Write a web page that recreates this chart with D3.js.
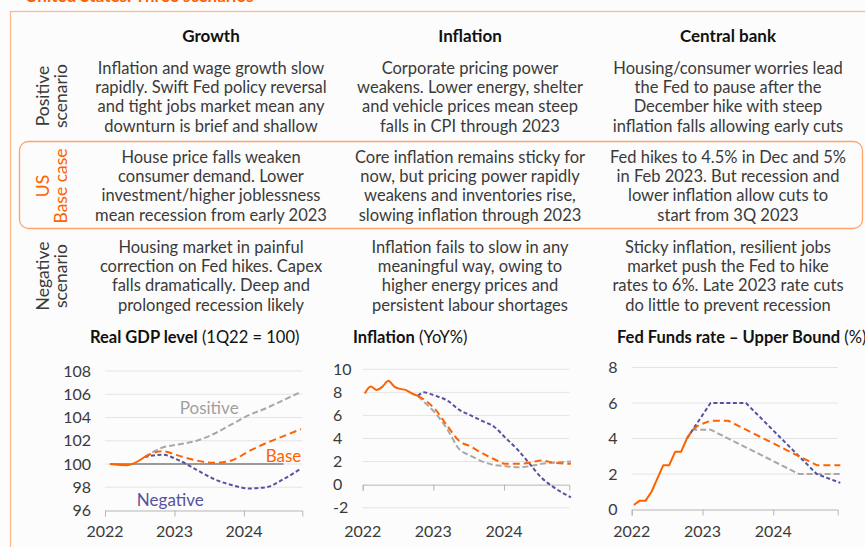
<!DOCTYPE html>
<html>
<head>
<meta charset="utf-8">
<script src="https://cdn.jsdelivr.net/npm/d3@7"></script>
<style>
  body { margin: 0; background: #fcfcfc; }
  svg { display: block; font-family: Lato, "Noto Sans", sans-serif; }
</style>
</head>
<body>
<svg id="chart" width="865" height="547"></svg>
<script>
// --- table text ---
const columns = ['Growth', 'Inflation', 'Central bank'];
const rowLabels = [
  ['Positive', 'scenario'],
  ['US', 'Base case'],
  ['Negative', 'scenario']
];
const positiveText = [
  ['Inflation and wage growth slow', 'rapidly. Swift Fed policy reversal', 'and tight jobs market mean any', 'downturn is brief and shallow'],
  ['Corporate pricing power', 'weakens. Lower energy, shelter', 'and vehicle prices mean steep', 'falls in CPI through 2023'],
  ['Housing/consumer worries lead', 'the Fed to pause after the', 'December hike with steep', 'inflation falls allowing early cuts']
];
const baseText = [
  ['House price falls weaken', 'consumer demand. Lower', 'investment/higher joblessness', 'mean recession from early 2023'],
  ['Core inflation remains sticky for', 'now, but pricing power rapidly', 'weakens and inventories rise,', 'slowing inflation through 2023'],
  ['Fed hikes to 4.5% in Dec and 5%', 'in Feb 2023. But recession and', 'lower inflation allow cuts to', 'start from 3Q 2023']
];
const negativeText = [
  ['Housing market in painful', 'correction on Fed hikes. Capex', 'falls dramatically. Deep and', 'prolonged recession likely'],
  ['Inflation fails to slow in any', 'meaningful way, owing to', 'higher energy prices and', 'persistent labour shortages'],
  ['Sticky inflation, resilient jobs', 'market push the Fed to hike', 'rates to 6%. Late 2023 rate cuts', 'do little to prevent recession']
];

// --- GDP (1Q22 = 100) ---
const gdpQuarters = ['1Q22','2Q22','3Q22','4Q22','1Q23','2Q23','3Q23','4Q23','1Q24','2Q24','3Q24','4Q24'];
const gdpActual   = [100.0, 99.9, 100.6, null, null, null, null, null, null, null, null, null];
const gdpBase     = [null, null, 100.6, 101.1, 100.7, 100.3, 100.1, 100.3, 101.1, 101.8, 102.4, 103.0];
const gdpPositive = [null, null, 100.6, 101.4, 101.7, 102.0, 102.6, 103.4, 104.2, 104.8, 105.5, 106.2];
const gdpNegative = [null, null, 100.6, 100.8, 100.3, 99.5, 98.7, 98.2, 97.9, 98.0, 98.7, 99.6];
const gdpRefQuarters = ['1Q22', '3Q24'];
const gdpRefValues = [100, 100];
const gdpTicks = [96, 98, 100, 102, 104, 106, 108];

// --- CPI inflation (YoY%) ---
const infActualMonths = ['2022-01','2022-02','2022-03','2022-04','2022-05','2022-06','2022-07','2022-08','2022-09','2022-10'];
const infActual = [7.9, 8.5, 8.2, 8.5, 9.0, 8.5, 8.3, 8.2, 7.9, 7.7];
const infFcMonths = ['2022-10','2022-11','2023-01','2023-03','2023-05','2023-07','2023-09','2023-11','2024-01','2024-03','2024-05','2024-07','2024-09','2024-12'];
const infBase     = [7.7, 7.4, 6.5, 5.1, 3.8, 3.3, 2.7, 2.2, 1.8, 1.8, 1.9, 2.1, 1.9, 1.8];
const infPositive = [7.7, 7.2, 6.2, 4.8, 3.1, 2.5, 2.0, 1.7, 1.6, 1.5, 1.6, 1.8, 1.9, 2.0];
const infNegative = [7.7, 8.0, 7.7, 7.3, 6.5, 6.0, 5.5, 5.0, 4.0, 3.0, 1.8, 0.6, -0.2, -1.1];
const infTicks = [-2, 0, 2, 4, 6, 8, 10];

// --- Fed funds upper bound (%) ---
const fedActualMonths = ['2022-01','2022-02','2022-03','2022-04','2022-05','2022-06','2022-07','2022-08','2022-09','2022-10'];
const fedActual = [0.25, 0.5, 0.5, 1.0, 1.75, 2.5, 2.5, 3.25, 3.25, 4.0];
const fedBaseMonths = ['2022-10','2022-11','2022-12','2023-02','2023-05','2023-08','2023-11','2024-02','2024-05','2024-08','2024-12'];
const fedBase = [4.0, 4.5, 4.75, 5.0, 5.0, 4.5, 4.0, 3.5, 3.0, 2.5, 2.5];
const fedPositiveMonths = ['2022-10','2022-11','2023-02','2024-05','2024-12'];
const fedPositive = [4.0, 4.5, 4.5, 2.0, 2.0];
const fedNegativeMonths = ['2022-10','2022-11','2023-02','2023-08','2024-08','2024-12'];
const fedNegative = [4.0, 4.5, 6.0, 6.0, 2.0, 1.5];
const fedTicks = [0, 2, 4, 6, 8];

const yearTicks = [2022, 2023, 2024];

const ORANGE = '#ff6200';
const GREY = '#a8a8a8';
const PURPLE = '#5553a0';
const TEXT = '#3a3a3a';

const svg = d3.select('#chart');

// title (cut off at top of picture, as in the source)
svg.append('text')
  .attr('x', 25).attr('y', 2)
  .attr('font-size', 17).attr('font-weight', 700)
  .attr('fill', ORANGE)
  .text('United States: Three scenarios');

// outer frame
svg.append('rect')
  .attr('x', 10.5).attr('y', 11.5)
  .attr('width', 900).attr('height', 600)
  .attr('fill', 'none')
  .attr('stroke', '#fdb98c').attr('stroke-width', 1.3);

// base case box
svg.append('rect')
  .attr('x', 19.5).attr('y', 141.5)
  .attr('width', 843).attr('height', 87)
  .attr('rx', 9)
  .attr('fill', 'none')
  .attr('stroke', '#ffa468').attr('stroke-width', 1.3);

const colX = [211, 470, 728];

svg.append('g').selectAll('text')
  .data(columns)
  .enter()
  .append('text')
  .attr('x', (d, i) => colX[i])
  .attr('y', 42)
  .attr('text-anchor', 'middle')
  .attr('font-size', 17)
  .attr('font-weight', 700)
  .attr('fill', '#111')
  .text(d => d);

const rows = [positiveText, baseText, negativeText];
const rowTop = [73.5, 162.5, 252.5];
const rowMid = [96, 186, 276];
const lineH = 19.4;

rows.forEach((row, r) => {
  const g = svg.append('g');
  row.forEach((lines, c) => {
    g.append('g').selectAll('text')
      .data(lines)
      .enter()
      .append('text')
      .attr('x', colX[c])
      .attr('y', (d, i) => rowTop[r] + i * lineH)
      .attr('text-anchor', 'middle')
      .attr('font-size', 16.5)
      .attr('fill', TEXT)
      .text(d => d);
  });

  // rotated row label
  g.append('g').selectAll('text')
    .data(rowLabels[r])
    .enter()
    .append('text')
    .attr('transform', (d, i) => `translate(${[48.5, 67][i]},${rowMid[r]}) rotate(-90)`)
    .attr('text-anchor', 'middle')
    .attr('font-size', 17.5)
    .attr('fill', r === 1 ? ORANGE : TEXT)
    .text(d => d);
});

// --- helpers ---
function monthPos(s) {
  const [y, m] = s.split('-').map(Number);
  return y + (m - 1) / 12 + 0.03;
}
function quarterPos(s) {
  const q = +s[0];
  const y = 2000 + +s.slice(2);
  return y + (q - 1) / 4 + 0.07;
}

function drawPanel(opts) {
  const { x, y, ticks, baseline, labelX, labelAnchor } = opts;
  const g = svg.append('g');

  // title
  const t = g.append('text')
    .attr('x', opts.titleX).attr('y', 342.5)
    .attr('font-size', 16.5)
    .attr('fill', '#111');
  t.append('tspan').attr('font-weight', 700).text(opts.titleBold);
  t.append('tspan').text(' ' + opts.titleRest);

  // grid
  g.append('g').selectAll('line')
    .data(ticks.filter(v => v !== baseline))
    .enter()
    .append('line')
    .attr('x1', x.range()[0]).attr('x2', x.range()[1])
    .attr('y1', d => y(d)).attr('y2', d => y(d))
    .attr('stroke', '#e4e4e4').attr('stroke-width', 1);

  // y labels
  g.append('g').selectAll('text')
    .data(ticks)
    .enter()
    .append('text')
    .attr('x', labelX)
    .attr('y', d => y(d) + 5.5)
    .attr('text-anchor', labelAnchor)
    .attr('font-size', 16)
    .attr('fill', TEXT)
    .text(d => d);

  // x axis at baseline
  const axis = g.append('g')
    .attr('transform', `translate(0,${y(baseline)})`)
    .call(d3.axisBottom(x).tickValues(yearTicks).tickSize(6).tickFormat(''));
  axis.select('.domain').attr('stroke', '#b5b5b5');
  axis.selectAll('.tick line').attr('stroke', '#b5b5b5');

  g.append('g').selectAll('text')
    .data(yearTicks)
    .enter()
    .append('text')
    .attr('x', d => x(d))
    .attr('y', 536.5)
    .attr('text-anchor', 'middle')
    .attr('font-size', 16)
    .attr('fill', TEXT)
    .text(d => d);

  const line = d3.line()
    .defined(d => d[1] != null)
    .x(d => x(d[0]))
    .y(d => y(d[1]))
    .curve(opts.curve);

  opts.series.forEach(s => {
    g.append('path')
      .datum(s.pos.map((p, i) => [p, s.values[i]]))
      .attr('d', line)
      .attr('fill', 'none')
      .attr('stroke', s.color)
      .attr('stroke-width', s.width || 2)
      .attr('stroke-dasharray', s.dash || null)
      .attr('stroke-linejoin', 'round');
  });
  return g;
}

// GDP panel
const gdpX = d3.scaleLinear().domain([2022, 2024.84]).range([105, 302.3]);
const gdpY = d3.scaleLinear().domain([96, 108]).range([510.5, 371]);
const gdpPos = gdpQuarters.map(quarterPos);
const gdpPanel = drawPanel({
  x: gdpX, y: gdpY, ticks: gdpTicks, baseline: 96,
  labelX: 91, labelAnchor: 'end',
  titleX: 90, titleBold: 'Real GDP level', titleRest: '(1Q22 = 100)',
  curve: d3.curveMonotoneX,
  series: [
    { pos: gdpRefQuarters.map(quarterPos), values: gdpRefValues, color: '#444', width: 1.2 },
    { pos: gdpPos, values: gdpPositive, color: GREY, dash: '6,3' },
    { pos: gdpPos, values: gdpNegative, color: PURPLE, dash: '4,2.5' },
    { pos: gdpPos, values: gdpBase, color: ORANGE, dash: '7,4' },
    { pos: gdpPos, values: gdpActual, color: ORANGE }
  ]
});

const gdpLabels = [
  { text: 'Positive', x: 2023.5, v: 104.3, color: '#a0a0a0' },
  { text: 'Base', x: 2024.57, v: 100.2, color: ORANGE },
  { text: 'Negative', x: 2022.94, v: 96.4, color: PURPLE }
];
gdpPanel.append('g').selectAll('text')
  .data(gdpLabels)
  .enter()
  .append('text')
  .attr('x', d => gdpX(d.x))
  .attr('y', d => gdpY(d.v))
  .attr('text-anchor', 'middle')
  .attr('font-size', 17)
  .attr('fill', d => d.color)
  .text(d => d.text);

// Inflation panel
const infX = d3.scaleLinear().domain([2022, 2024.924]).range([362.7, 569.3]);
const infY = d3.scaleLinear().domain([-2, 10]).range([507.7, 369.3]);
const infFcPos = infFcMonths.map(monthPos);
drawPanel({
  x: infX, y: infY, ticks: infTicks, baseline: 0,
  labelX: 333, labelAnchor: 'start',
  titleX: 353, titleBold: 'Inflation', titleRest: '(YoY%)',
  curve: d3.curveMonotoneX,
  series: [
    { pos: infFcPos, values: infPositive, color: GREY, dash: '6,3' },
    { pos: infFcPos, values: infNegative, color: PURPLE, dash: '4,2.5' },
    { pos: infFcPos, values: infBase, color: ORANGE, dash: '7,4' },
    { pos: infActualMonths.map(monthPos), values: infActual, color: ORANGE }
  ]
});

// Fed funds panel
const fedX = d3.scaleLinear().domain([2022, 2024.91]).range([631.7, 837.7]);
const fedY = d3.scaleLinear().domain([0, 8]).range([509.5, 367.5]);
drawPanel({
  x: fedX, y: fedY, ticks: fedTicks, baseline: 0,
  labelX: 613, labelAnchor: 'middle',
  titleX: 617, titleBold: 'Fed Funds rate \u2013 Upper Bound', titleRest: '(%)',
  curve: d3.curveLinear,
  series: [
    { pos: fedPositiveMonths.map(monthPos), values: fedPositive, color: GREY, dash: '6,3' },
    { pos: fedNegativeMonths.map(monthPos), values: fedNegative, color: PURPLE, dash: '4,2.5' },
    { pos: fedBaseMonths.map(monthPos), values: fedBase, color: ORANGE, dash: '7,4' },
    { pos: fedActualMonths.map(monthPos), values: fedActual, color: ORANGE }
  ]
});
</script>
</body>
</html>
